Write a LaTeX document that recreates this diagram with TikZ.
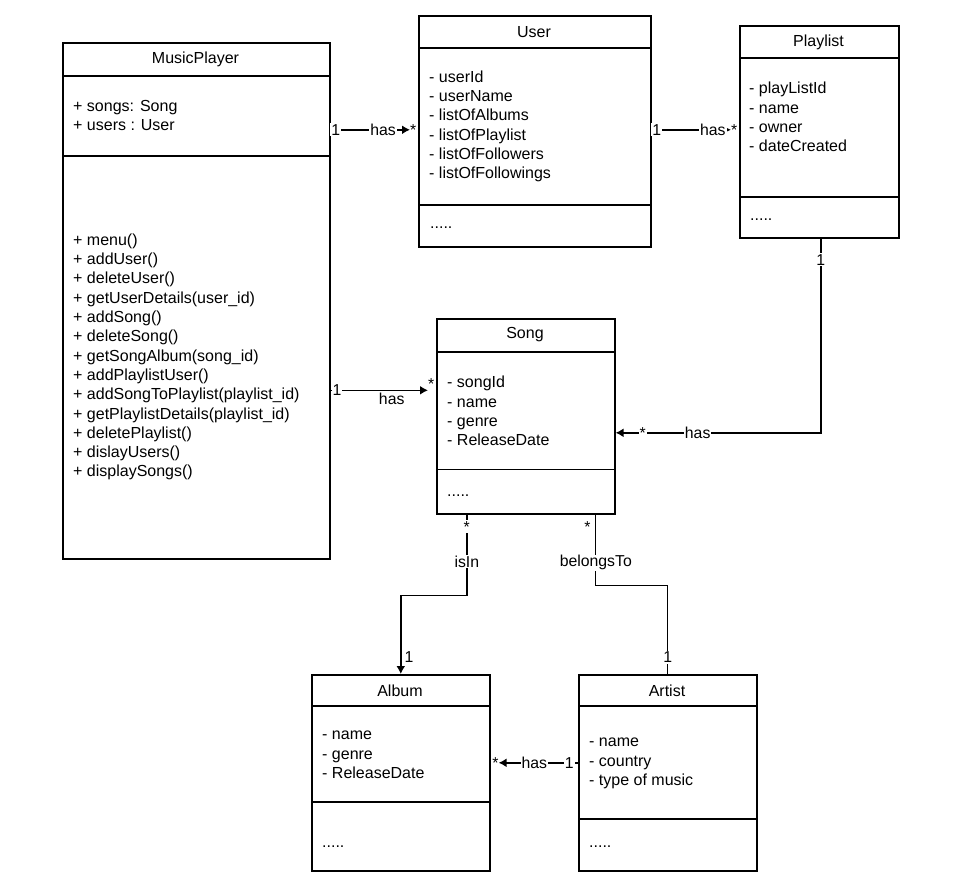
\documentclass[tikz,border=0pt]{standalone}
\usepackage{fontspec}
\setmainfont{Liberation Sans}
\usetikzlibrary{arrows.meta,positioning,calc}

\begin{document}
\begin{tikzpicture}[
  x=1pt,y=-1pt,
  classbox/.style={
    draw,
    line width=1.6pt,
    anchor=north west,
    inner sep=0pt
  },
  classtitle/.style={yshift=-2pt,font=\fontsize{16}{19.4}\selectfont},
  members/.style={
    anchor=west,
    align=left,
    inner sep=0pt,
    yshift=-2pt,
    font=\fontsize{16}{19.3}\selectfont
  },
  dots/.style={anchor=base west,inner sep=0pt,font=\fontsize{16}{19.3}\selectfont},
  divider/.style={line width=1.6pt},
  assoc/.style={line width=1.6pt},
  arrow/.style={assoc,-{Latex[length=8pt,width=9pt]}},
  mult/.style={fill=white,inner sep=1pt,font=\fontsize{15.8}{18}\selectfont},
  rolename/.style={fill=white,inner sep=1pt,font=\fontsize{15.8}{18}\selectfont}
]
  \useasboundingbox (0,0) rectangle (970,872);

  % classes
  \node[classbox,minimum width=267pt,minimum height=516pt] (player) at (62,42) {};
  \node[classbox,minimum width=232pt,minimum height=231pt] (user) at (418,15) {};
  \node[classbox,minimum width=159pt,minimum height=212pt] (playlist) at (739,25) {};
  \node[classbox,minimum width=178pt,minimum height=195pt] (song) at (436,318) {};
  \node[classbox,minimum width=178pt,minimum height=196pt] (album) at (311,674) {};
  \node[classbox,minimum width=178pt,minimum height=196pt] (artist) at (578,674) {};

  \draw[divider] (62,76) -- (329,76);
  \draw[divider] (62,156) -- (329,156);
  \draw[divider] (418,48) -- (650,48);
  \draw[divider] (418,205) -- (650,205);
  \draw[divider] (739,58) -- (898,58);
  \draw[divider] (739,197) -- (898,197);
  \draw[divider] (436,352) -- (614,352);
  \draw[line width=0.9pt] (436,469) -- (614,469);
  \draw[divider] (311,706) -- (489,706);
  \draw[divider] (311,802) -- (489,802);
  \draw[divider] (578,706) -- (756,706);
  \draw[divider] (578,819) -- (756,819);

  \node[classtitle] (playertitle) at (195.5,57) {MusicPlayer};
  \node[classtitle] (usertitle) at (534,30) {User};
  \node[classtitle] (playlisttitle) at (818.5,40) {Playlist};
  \node[classtitle] (songtitle) at (525,333) {Song};
  \node[classtitle] (albumtitle) at (400,689) {Album};
  \node[classtitle] (artisttitle) at (667,689) {Artist};

  \node[members] (playerattr) at (73,113.5) {+ songs: Song\\+ users : User};
  \node[members] (playerops) at (73,355) {+ menu()\\+ addUser()\\+ deleteUser()\\
    + getUserDetails(user\_id)\\+ addSong()\\+ deleteSong()\\+ getSongAlbum(song\_id)\\
    + addPlaylistUser()\\+ addSongToPlaylist(playlist\_id)\\+ getPlaylistDetails(playlist\_id)\\
    + deletePlaylist()\\+ dislayUsers()\\+ displaySongs()};
  \node[members] (userattr) at (429,124.5) {- userId\\- userName\\- listOfAlbums\\
    - listOfPlaylist\\- listOfFollowers\\- listOfFollowings};
  \node[dots] (userops) at (430,229) {.....};
  \node[members] (playlistattr) at (749,115) {- playListId\\- name\\- owner\\- dateCreated};
  \node[dots] (playlistops) at (750,221) {.....};
  \node[members] (songattr) at (447,409) {- songId\\- name\\- genre\\- ReleaseDate};
  \node[dots] (songops) at (447,496) {.....};
  \node[members] (albumattr) at (322,753) {- name\\- genre\\- ReleaseDate};
  \node[dots] (albumops) at (322,847.5) {.....};
  \node[members] (artistattr) at (589,761.5) {- name\\- country\\- type of music};
  \node[dots] (artistops) at (589,847) {.....};

  % associations
  \draw[arrow,shorten >=8pt] ([yshift=1.5pt]player.east |- user.west) -- ([yshift=1.5pt]user.west)
    node[mult,pos=0.06] {1}
    node[rolename,pos=0.6] {has}
    node[mult,pos=1,anchor=east,inner sep=0pt,xshift=-1pt] {*};
  \draw[arrow,shorten >=8pt] ([yshift=1.5pt]user.east) -- ([yshift=1.5pt]user.east -| playlist.west)
    node[mult,pos=0.06] {1}
    node[rolename,pos=0.7] {has}
    node[mult,pos=1,anchor=east,inner sep=0pt,xshift=-1pt] {*};
  \draw[arrow,shorten >=8pt] ([yshift=26pt]song.west -| player.east) -- ([yshift=26pt]song.west)
    node[mult,pos=0.06] {1}
    node[rolename,pos=0.58,below=1pt,fill=none] {has}
    node[mult,pos=1,anchor=south east,inner sep=0pt,xshift=-1pt] {*};
  \draw[arrow] ([xshift=1.5pt]playlist.south) |- ([yshift=-16.5pt]song.east)
    node[mult,pos=0.054] {1}
    node[rolename,pos=0.8] {has}
    node[mult,pos=0.934] {*};
  \draw[arrow] ([xshift=-59pt]song.south)
    -- node[mult,pos=0.15] {*} node[rolename,pos=0.58] {isIn} ++(0,81)
    -| node[mult,pos=0.89,right=2pt,fill=none] {1} (album.north);
  \draw[line width=0.8pt] ([xshift=70pt]song.south)
    -- node[mult,pos=0.17,left=4pt,fill=none] {*} node[rolename,pos=0.68] {belongsTo} ++(0,71)
    -| node[mult,pos=0.905] {1} (artist.north);
  \draw[arrow,shorten >=8pt] ([yshift=10pt]artist.west) -- ([yshift=10pt]album.east)
    node[mult,pos=0.1] {1}
    node[rolename,pos=0.5] {has}
    node[mult,pos=1,anchor=west,inner sep=0pt,xshift=1pt] {*};
\end{tikzpicture}
\end{document}
